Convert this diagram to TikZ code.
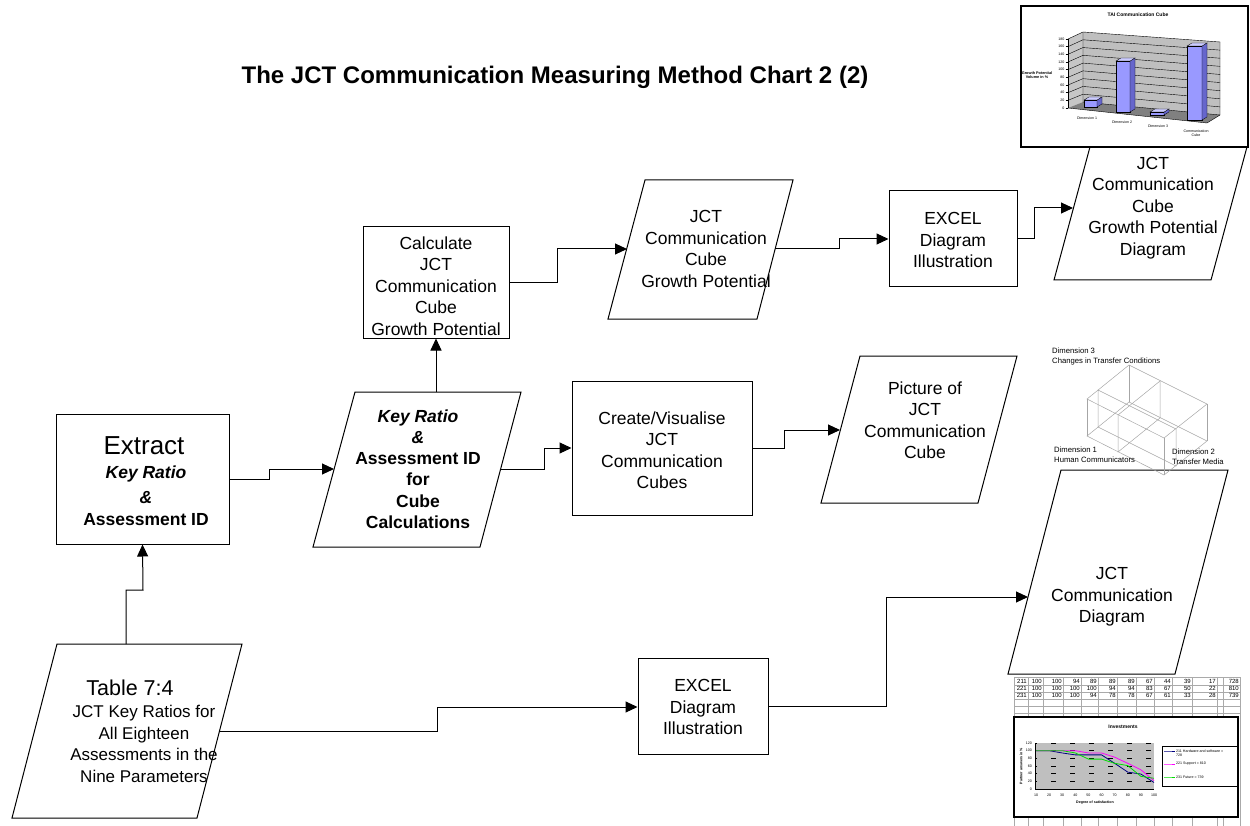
\documentclass[tikz,border=0pt]{standalone}
\usepackage{fontspec}
\setmainfont{Liberation Sans}
\usetikzlibrary{arrows.meta}
\newcommand\myfs[2]{\fontsize{#1}{#2}\selectfont}
\definecolor{bfront}{RGB}{153,153,255}
\definecolor{bside}{RGB}{102,102,204}
\definecolor{btop}{RGB}{204,204,255}
\definecolor{sernavy}{RGB}{0,0,128}
\definecolor{sermag}{RGB}{255,0,255}
\definecolor{sergreen}{RGB}{0,220,0}
\definecolor{gridc}{RGB}{170,170,170}
\newcommand\chbar[4]{%
  \filldraw[fill=bfront, line width=0.3pt] (#1,#3) rectangle (#2,#4);
  \filldraw[fill=bside, line width=0.3pt] (#2,#4) -- ({#2+5},{#4-3}) -- ({#2+5},{#3-3}) -- (#2,#3) -- cycle;
  \filldraw[fill=btop, line width=0.3pt] (#1,#3) -- ({#1+5},{#3-3}) -- ({#2+5},{#3-3}) -- (#2,#3) -- cycle;
}
\begin{document}
\begin{tikzpicture}[x=1pt,y=-1pt,
  box/.style={draw, line width=1pt, fill=white, inner sep=0pt},
  txt/.style={align=center, inner sep=0pt, font=\myfs{17.5}{21.5}},
  btxt/.style={align=center, inner sep=0pt, font=\bfseries\myfs{17.5}{21.5}},
  ln/.style={line width=1pt},
  arr/.style={line width=1pt, -{Triangle[length=12pt,width=11pt]}},
  tiny/.style={inner sep=0pt, font=\myfs{3.6}{4.2}},
  cubeln/.style={line width=0.5pt, gray!70},
]
\useasboundingbox (0,0) rectangle (1250,826);

% ---------- title
\node[font=\bfseries\myfs{24}{28}] (title) at (555,77) {The JCT Communication Measuring Method Chart 2 (2)};

% ---------- Extract box
\node[box, minimum width=173pt, minimum height=130pt] (ext) at (142.5,479) {};
\node[inner sep=0pt, font=\myfs{26}{30}] (extA) at (144,446) {Extract};
\node[inner sep=0pt, font=\bfseries\itshape\myfs{17.5}{21.5}] (extB) at (146,474) {Key Ratio};
\node[inner sep=0pt, font=\bfseries\itshape\myfs{17.5}{21.5}] (extC) at (146,498) {\&};
\node[inner sep=0pt, font=\bfseries\myfs{17.5}{21.5}] (extD) at (146,520) {Assessment ID};

% ---------- Key Ratio parallelogram
\coordinate (krTL) at (355,392); \coordinate (krTR) at (521,392);
\coordinate (krBR) at (480,547); \coordinate (krBL) at (313,547);
\draw[ln, fill=white] (krTL) -- (krTR) -- (krBR) -- (krBL) -- cycle;
\node[btxt, font=\bfseries\myfs{17.5}{21.2}] (kr) at (418,469) {\textit{Key Ratio}\\\textit{\&}\\Assessment ID\\for\\Cube\\Calculations};
\coordinate (krIn) at (334,469);
\coordinate (krOut) at (501,469);
\coordinate (krTop) at (436,392);

% ---------- Calculate box
\node[box, minimum width=146pt, minimum height=111pt] (calc) at (436,282.5) {};
\node[txt] (calcT) at (436,286) {Calculate\\JCT\\Communication\\Cube\\Growth Potential};

% ---------- Growth potential parallelogram
\coordinate (gpTL) at (645,180); \coordinate (gpTR) at (793,180);
\coordinate (gpBR) at (757,319); \coordinate (gpBL) at (608,319);
\draw[ln, fill=white] (gpTL) -- (gpTR) -- (gpBR) -- (gpBL) -- cycle;
\node[txt] (gp) at (706,249) {JCT\\Communication\\Cube\\Growth Potential};
\coordinate (gpIn) at (627,249);
\coordinate (gpOut) at (775,249);

% ---------- EXCEL top
\node[box, minimum width=128pt, minimum height=96pt] (xl1) at (953,239) {};
\node[txt] (xl1T) at (953,240) {EXCEL\\Diagram\\Illustration};

% ---------- Growth potential diagram parallelogram (top hidden by chart)
\coordinate (gdTL) at (1090.5,145); \coordinate (gdTR) at (1247.5,145);
\coordinate (gdBR) at (1211,280); \coordinate (gdBL) at (1054,280);
\draw[ln, fill=white] (gdTL) -- (gdTR) -- (gdBR) -- (gdBL) -- cycle;
\node[txt] (gd) at (1153,208) {JCT\\Communication\\Cube\\Growth Potential\\Diagram};
\coordinate (gdIn) at (1073,208);

% ---------- Create / Visualise box
\node[box, minimum width=180pt, minimum height=134pt] (cr) at (662,448) {};
\node[txt] (crT) at (662,450) {Create/Visualise\\JCT\\Communication\\Cubes};

% ---------- Picture parallelogram
\coordinate (pcTL) at (860,356); \coordinate (pcTR) at (1017,356);
\coordinate (pcBR) at (978,503); \coordinate (pcBL) at (821,503);
\draw[ln, fill=white] (pcTL) -- (pcTR) -- (pcBR) -- (pcBL) -- cycle;
\node[txt] (pc) at (925,420) {Picture of\\JCT\\Communication\\Cube};
\coordinate (pcIn) at (840,430);

% ---------- Table parallelogram
\coordinate (tbTL) at (57,644); \coordinate (tbTR) at (242,644);
\coordinate (tbBR) at (197,818); \coordinate (tbBL) at (12,818);
\draw[ln, fill=white] (tbTL) -- (tbTR) -- (tbBR) -- (tbBL) -- cycle;
\node[inner sep=0pt, font=\myfs{21.5}{24}] (tbA) at (130,688) {Table 7:4};
\node[txt, font=\myfs{17}{21.7}] (tbB) at (144,744) {JCT Key Ratios for\\All Eighteen\\Assessments in the\\Nine Parameters};
\coordinate (tbTop) at (126,644);
\coordinate (tbOut) at (220,731);

% ---------- EXCEL bottom
\node[box, minimum width=130pt, minimum height=96pt] (xl2) at (703,706) {};
\node[txt] (xl2T) at (703,707) {EXCEL\\Diagram\\Illustration};

% ---------- Communication diagram parallelogram
\coordinate (cdTL) at (1061,470); \coordinate (cdTR) at (1228,470);
\coordinate (cdBR) at (1175,674); \coordinate (cdBL) at (1008,674);
\draw[ln, fill=white] (cdTL) -- (cdTR) -- (cdBR) -- (cdBL) -- cycle;
\node[txt] (cd) at (1112,597) {JCT\\Communication\\Diagram};
\coordinate (cdIn) at (1028,597);

% ---------- connectors
\draw[arr] (tbTop) -- (126,590) -- (143,590) -- (ext.south);
\draw[arr] (ext.east |- 0,479) -- (269,479) -- (269,469) -- (krIn);
\draw[arr] (krTop) -- (calc.south);
\draw[arr] (krOut) -- (544,469) -- (544,448) -- (cr.west);
\draw[arr] (calc.east |- 0,283) -- (557,283) -- (557,249) -- (gpIn);
\draw[arr] (gpOut) -- (839,249) -- (839,239) -- (xl1.west);
\draw[arr] (xl1.east) -- (1034,239) -- (1034,208) -- (gdIn);
\draw[arr] (cr.east) -- (784,448) -- (784,430) -- (pcIn);
\draw[arr] (tbOut) -- (437,731) -- (437,707) -- (xl2.west |- 0,707);
\draw[arr] (xl2.east |- 0,706) -- (886,706) -- (886,597) -- (cdIn);

% ---------- bar chart picture (top right)
\draw[line width=1.8pt, fill=white] (1021,6) rectangle (1248,147);
\node[font=\bfseries\myfs{5}{6}, inner sep=0pt] (bcT) at (1138,15) {TAI Communication Cube};
\fill[gray!45] (1068,39) -- (1083,32) -- (1083,102) -- (1068,108) -- cycle;
\fill[gray!50] (1083,32) -- (1220,42) -- (1220,115) -- (1083,102) -- cycle;
\fill[gray] (1068,108) -- (1083,102) -- (1220,115) -- (1207,123) -- cycle;
\foreach \k in {1,...,9}
  \draw[line width=0.4pt] (1068,{108-\k*69/9}) -- (1083,{102-\k*70/9}) -- (1220,{115-\k*73/9});
\draw[line width=0.4pt] (1083,32) -- (1083,102) -- (1220,115);
\draw[line width=0.4pt] (1220,42) -- (1220,115) -- (1207,123) -- (1068,108);
\draw[line width=0.6pt] (1068,39) -- (1068,108);
\foreach \k [evaluate=\k as \v using int(20*\k)] in {0,...,9} {
  \draw[line width=0.4pt] (1065.5,{108-\k*69/9}) -- (1068,{108-\k*69/9});
  \node[tiny, anchor=east] at (1064.5,{108-\k*69/9}) {\v};
}
\chbar{1084}{1097}{100}{107}
\chbar{1116}{1130}{61}{112}
\chbar{1150}{1164}{112}{115}
\chbar{1187}{1202}{46}{120}
\node[tiny, font=\bfseries\myfs{3.8}{4.6}, align=center] (bcY) at (1037,75) {Growth Potential\\Volume in \%};
\node[tiny] (bcX1) at (1087,118) {Dimension 1};
\node[tiny] (bcX2) at (1122,122) {Dimension 2};
\node[tiny] (bcX3) at (1158,126) {Dimension 3};
\node[tiny, align=center] (bcX4) at (1196,133) {Communication\\Cube};

% ---------- cube picture
\coordinate (cBT) at (1129,365); \coordinate (cLT) at (1087,399);
\coordinate (cRT) at (1207,404); \coordinate (cFT) at (1164,438);
\coordinate (cBB) at (1129,402); \coordinate (cLB) at (1087,436);
\coordinate (cRB) at (1207,441); \coordinate (cFB) at (1164,475);
\draw[cubeln] (cBT) -- (cLT) -- (cFT) -- (cRT) -- cycle;
\draw[cubeln] (cBB) -- (cLB) -- (cFB) -- (cRB) -- cycle;
\draw[cubeln] (cBT) -- (cBB) (cLT) -- (cLB) (cRT) -- (cRB) (cFT) -- (cFB);
\draw[cubeln] (1160,381) -- (1118,415) -- (1118,452) -- (1160,418) -- cycle;
\draw[cubeln] (1098,390) -- (1176,429) -- (1176,466) -- (1098,427) -- cycle;
\node[anchor=west, align=left, inner sep=0pt, font=\myfs{7.7}{10}] (cuD3) at (1052,357) {Dimension 3\\Changes in Transfer Conditions};
\node[anchor=west, align=left, inner sep=0pt, font=\myfs{7.7}{10}] (cuD1) at (1054,455) {Dimension 1\\Human Communicators};
\node[anchor=west, align=left, inner sep=0pt, font=\myfs{7.7}{10}] (cuD2) at (1172,457) {Dimension 2\\Transfer Media};

% ---------- spreadsheet + line chart (bottom right)
\foreach \x in {1014,1028,1043,1063,1081,1098,1117,1136,1154,1172,1192,1217,1223,1240}
  \draw[gridc, line width=0.5pt] (\x,677) -- (\x,826);
\foreach \y in {677,685,692,699,706,713}
  \draw[gridc, line width=0.5pt] (1014,\y) -- (1240,\y);
\foreach \r/\yy in {0/681, 1/688.5, 2/695.5} {
  \ifcase\r
    \foreach \x/\v in {1027/211,1042/100,1062/100,1080/94,1097/89,1116/89,1135/89,1153/67,1171/44,1191/39,1216/17,1239/728}
      \node[anchor=east, inner sep=0pt, font=\myfs{6}{7}] at (\x,\yy) {\v};
  \or
    \foreach \x/\v in {1027/221,1042/100,1062/100,1080/100,1097/100,1116/94,1135/94,1153/83,1171/67,1191/50,1216/22,1239/810}
      \node[anchor=east, inner sep=0pt, font=\myfs{6}{7}] at (\x,\yy) {\v};
  \or
    \foreach \x/\v in {1027/231,1042/100,1062/100,1080/100,1097/94,1116/78,1135/78,1153/67,1171/61,1191/33,1216/28,1239/739}
      \node[anchor=east, inner sep=0pt, font=\myfs{6}{7}] at (\x,\yy) {\v};
  \fi
}
\draw[line width=1.5pt, fill=white] (1014,717) rectangle (1238,817);
\node[font=\bfseries\myfs{5}{6}, inner sep=0pt] (lcT) at (1123,727) {Investments};
\fill[gray!50] (1035,743) rectangle (1154,789);
\foreach \k in {1,...,6}
  \draw[line width=0.6pt, dash pattern=on 5pt off 14pt, dash phase=-16pt] (1035,{789-\k*46/6}) -- (1154,{789-\k*46/6});
\draw[line width=0.5pt] (1035,743) -- (1035,789) -- (1154,789);
\foreach \k [evaluate=\k as \v using int(20*\k)] in {0,...,6}
  \node[tiny, anchor=east] at (1032,{789-\k*46/6}) {\v};
\foreach \k [evaluate=\k as \v using int(10*\k)] in {1,...,10}
  \node[tiny] at ({1036+(\k-1)*118/9},795) {\v};
\node[tiny, font=\bfseries\myfs{3.6}{4.2}] (lcX) at (1095,803) {Degree of satisfaction};
\node[tiny, font=\bfseries\myfs{3.6}{4.2}, rotate=90] (lcY) at (1021,766) {Partner answers in \%};
\begin{scope}[shift={(1036pt,-789pt)}, x=1.3111pt, y=0.38333pt]
  \draw[sernavy, line width=0.8pt] plot[mark=diamond*, mark size=1.6pt] coordinates {(0,100) (10,100) (20,94) (30,89) (40,89) (50,89) (60,67) (70,44) (80,39) (90,17)};
  \draw[sermag, line width=0.8pt] plot[mark=square*, mark size=1.4pt] coordinates {(0,100) (10,100) (20,100) (30,100) (40,94) (50,94) (60,83) (70,67) (80,50) (90,22)};
  \draw[sergreen, line width=0.8pt] plot[mark=triangle*, mark size=1.7pt] coordinates {(0,100) (10,100) (20,100) (30,94) (40,78) (50,78) (60,67) (70,61) (80,33) (90,28)};
\end{scope}
\draw[line width=0.7pt] (1162,746) rectangle (1237,786);
\draw[sernavy, line width=0.8pt] plot[mark=diamond*, mark size=1.6pt] coordinates {(1164,751) (1169.5,751) (1175,751)};
\draw[sermag, line width=0.8pt] plot[mark=square*, mark size=1.4pt] coordinates {(1164,764) (1169.5,764) (1175,764)};
\draw[sergreen, line width=0.8pt] plot[mark=triangle*, mark size=1.7pt] coordinates {(1164,777) (1169.5,777) (1175,777)};
\node[tiny, anchor=north west, align=left] (lg1) at (1176,749.5) {211 Hardware and software =\\728};
\node[tiny, anchor=west] (lg2) at (1176,764) {221 Support = 810};
\node[tiny, anchor=west] (lg3) at (1176,777) {231 Future = 739};
\end{tikzpicture}
\end{document}
